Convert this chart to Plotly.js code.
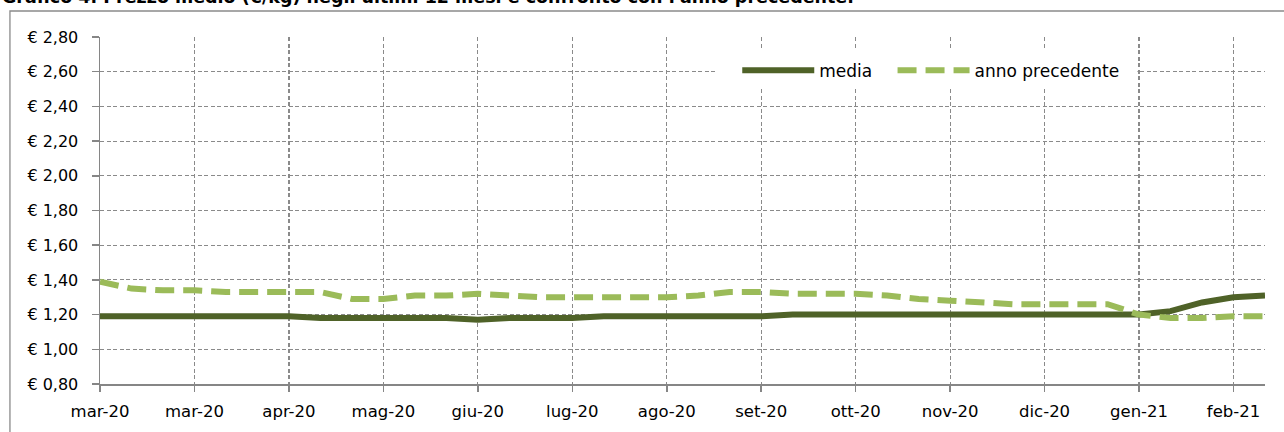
<!DOCTYPE html>
<html><head><meta charset="utf-8">
<script src="https://cdn.plot.ly/plotly-3.0.1.min.js"></script>
<style>html,body{margin:0;padding:0;background:#fff;overflow:hidden}#chart{width:1284px;height:432px}</style>
</head><body><div id="chart"></div>
<script>
// Prezzo medio (€/kg), one value per survey point
const media = [1.19,1.19,1.19,1.19,1.19,1.19,1.19,1.18,1.18,1.18,1.18,1.18,1.17,1.18,1.18,1.18,1.19,1.19,1.19,1.19,1.19,1.19,1.20,1.20,1.20,1.20,1.20,1.20,1.20,1.20,1.20,1.20,1.20,1.20,1.22,1.27,1.30,1.31];
const annoPrecedente = [1.39,1.35,1.34,1.34,1.33,1.33,1.33,1.33,1.29,1.29,1.31,1.31,1.32,1.31,1.30,1.30,1.30,1.30,1.30,1.31,1.33,1.33,1.32,1.32,1.32,1.31,1.29,1.28,1.27,1.26,1.26,1.26,1.26,1.20,1.18,1.18,1.19,1.19];
const tickLabels = ['mar-20','mar-20','apr-20','mag-20','giu-20','lug-20','ago-20','set-20','ott-20','nov-20','dic-20','gen-21','feb-21'];
const labelEvery = 3;
const seriesNames = ['media','anno precedente'];
const titleText = "Grafico 4. Prezzo medio (€/kg) negli ultimi 12 mesi e confronto con l'anno precedente.";

const xs = media.map((_, i) => i);
const tickvals = tickLabels.map((_, i) => i * labelEvery);
const FONT = 'DejaVu Sans';
const GRID = '#8a8a8a';
const AXIS = '#868686';

const traces = [
  {x: xs, y: media, name: seriesNames[0], type: 'scatter', mode: 'lines', legend: 'legend',
   line: {color: '#4F6228', width: 6}},
  {x: xs, y: annoPrecedente, name: seriesNames[1], type: 'scatter', mode: 'lines', legend: 'legend2',
   line: {color: '#9BBB59', width: 6, dash: '19px,9px'}}
];

const legendBase = {orientation: 'h', xanchor: 'left', y: 0.955, yanchor: 'top',
  bgcolor: 'rgba(255,255,255,0)', borderwidth: 0, font: {family: FONT, size: 17, color: '#000'},
  itemwidth: 72};

const layout = {
  width: 1284, height: 432,
  margin: {l: 100, r: 19, t: 37, b: 48, pad: 0},
  paper_bgcolor: '#fff', plot_bgcolor: '#fff',
  separators: ',.',
  font: {family: FONT, size: 16, color: '#000'},
  showlegend: true,
  legend: Object.assign({}, legendBase, {x: 0.547}),
  legend2: Object.assign({}, legendBase, {x: 0.6803}),
  xaxis: {range: [0, xs.length - 1], tickmode: 'array', tickvals: tickvals, ticktext: tickLabels,
          showgrid: true, gridcolor: GRID, gridwidth: 1.2, griddash: '4px,2.5px',
          showline: true, linecolor: AXIS, linewidth: 1.5, zeroline: false,
          ticks: 'outside', ticklen: 6, tickcolor: AXIS, tickwidth: 1.5,
          ticklabelstandoff: 6, tickfont: {family: FONT, size: 16.5, color: '#000'}, fixedrange: true},
  yaxis: {range: [0.8, 2.8], tick0: 0.8, dtick: 0.2, tickformat: '.2f', tickprefix: '€ ',
          showgrid: true, gridcolor: GRID, gridwidth: 1.2, griddash: '4px,2.5px',
          showline: true, linecolor: AXIS, linewidth: 1.5, zeroline: false,
          ticks: 'outside', ticklen: 7, tickcolor: AXIS, tickwidth: 1.5,
          ticklabelstandoff: 10, tickfont: {family: FONT, size: 16, color: '#000'}, fixedrange: true},
  shapes: [
    {type: 'rect', xref: 'paper', yref: 'paper', x0: -0.0773, x1: 1.05, y0: -0.25, y1: 1.075,
     line: {color: '#8a8a8a', width: 1.3}, fillcolor: 'rgba(0,0,0,0)', layer: 'below'},
    // white legend background box
    {type: 'rect', xref: 'paper', yref: 'paper', x0: 0.5296, x1: 0.8905, y0: 0.850, y1: 0.9625,
     line: {width: 0}, fillcolor: '#ffffff', layer: 'above'}
  ],
  annotations: [
    {text: '<b>' + titleText + '</b>', xref: 'paper', yref: 'paper', x: -0.0858, xanchor: 'left',
     y: 1.082, yanchor: 'bottom', showarrow: false, font: {family: FONT, size: 17.5, color: '#000'}}
  ]
};

Plotly.newPlot('chart', traces, layout, {displayModeBar: false, staticPlot: true});
</script></body></html>
